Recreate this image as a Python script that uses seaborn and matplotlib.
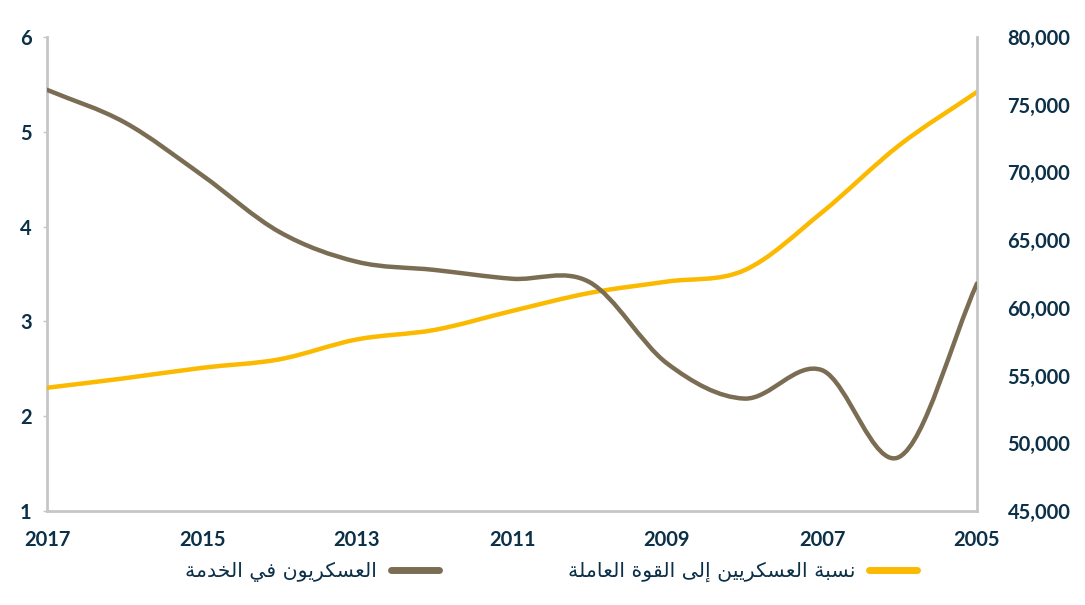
import numpy as np
import matplotlib
matplotlib.use("Agg")
import matplotlib.pyplot as plt
from matplotlib.path import Path
from matplotlib.patches import PathPatch
from matplotlib.lines import Line2D
from matplotlib.ticker import FuncFormatter
import seaborn as sns

# data
years = [2017, 2016, 2015, 2014, 2013, 2012, 2011, 2010, 2009, 2008, 2007, 2006, 2005]
personnel = [76100, 73700, 69800, 65600, 63400, 62800, 62150, 61900, 55900, 53300, 55400, 49000, 61800]
ratio = [2.30, 2.40, 2.51, 2.60, 2.81, 2.91, 3.11, 3.30, 3.42, 3.54, 4.15, 4.86, 5.42]

left_ticks = [1, 2, 3, 4, 5, 6]
right_ticks = [45000, 50000, 55000, 60000, 65000, 70000, 75000, 80000]
year_ticks = [2017, 2015, 2013, 2011, 2009, 2007, 2005]

label_personnel = "العسكريون في الخدمة"
label_ratio = "نسبة العسكريين إلى القوة العاملة"

BROWN = "#7b6d53"
YELLOW = "#fbb900"
NAVY = "#0b3048"
GREY = "#c6c6c6"

# simple arabic shaping (matplotlib has no text shaping)
FORMS = {
    "\u0627": (0xFE8D, 0xFE8E, None, None),
    "\u0625": (0xFE87, 0xFE88, None, None),
    "\u0628": (0xFE8F, 0xFE90, 0xFE91, 0xFE92),
    "\u0629": (0xFE93, 0xFE94, None, None),
    "\u062E": (0xFEA5, 0xFEA6, 0xFEA7, 0xFEA8),
    "\u062F": (0xFEA9, 0xFEAA, None, None),
    "\u0631": (0xFEAD, 0xFEAE, None, None),
    "\u0633": (0xFEB1, 0xFEB2, 0xFEB3, 0xFEB4),
    "\u0639": (0xFEC9, 0xFECA, 0xFECB, 0xFECC),
    "\u0641": (0xFED1, 0xFED2, 0xFED3, 0xFED4),
    "\u0642": (0xFED5, 0xFED6, 0xFED7, 0xFED8),
    "\u0643": (0xFED9, 0xFEDA, 0xFEDB, 0xFEDC),
    "\u0644": (0xFEDD, 0xFEDE, 0xFEDF, 0xFEE0),
    "\u0645": (0xFEE1, 0xFEE2, 0xFEE3, 0xFEE4),
    "\u0646": (0xFEE5, 0xFEE6, 0xFEE7, 0xFEE8),
    "\u0648": (0xFEED, 0xFEEE, None, None),
    "\u0649": (0xFEEF, 0xFEF0, None, None),
    "\u064A": (0xFEF1, 0xFEF2, 0xFEF3, 0xFEF4),
}

def shape(text):
    out = []
    for i, c in enumerate(text):
        if c not in FORMS:
            out.append(c)
            continue
        prev = text[i-1] if i > 0 else ""
        nxt = text[i+1] if i < len(text)-1 else ""
        jp = prev in FORMS and FORMS[prev][2] is not None
        jn = FORMS[c][2] is not None and nxt in FORMS
        iso, fin, ini, med = FORMS[c]
        if jp and jn:
            out.append(chr(med))
        elif jp:
            out.append(chr(fin))
        elif jn:
            out.append(chr(ini))
        else:
            out.append(chr(iso))
    return "".join(out)[::-1]

def smooth_path(x, y):
    # catmull-rom style bezier through the data points
    x = np.asarray(x, float)
    y = np.asarray(y, float)
    n = len(x)
    mx = np.gradient(x)
    my = np.gradient(y)
    verts = [(x[0], y[0])]
    codes = [Path.MOVETO]
    for i in range(n-1):
        verts += [(x[i]+mx[i]/3, y[i]+my[i]/3),
                  (x[i+1]-mx[i+1]/3, y[i+1]-my[i+1]/3),
                  (x[i+1], y[i+1])]
        codes += [Path.CURVE4]*3
    return Path(verts, codes)

sns.set_theme(style="white")
plt.rcParams['font.family'] = ['Lato', 'DejaVu Sans']

fig = plt.figure(figsize=(10.85, 6.05), dpi=100)
ax = fig.add_axes([47/1085, 1-511/605, (977-47)/1085, (511-37)/605])
ax2 = ax.twinx()

ax.set_xlim(2017, 2005)
ax.set_ylim(1, 6)
ax2.set_ylim(45000, 80000)

ax.add_patch(PathPatch(smooth_path(years, ratio), fill=False, edgecolor=YELLOW,
                       lw=3.2, capstyle="round", joinstyle="round", zorder=3))
ax2.add_patch(PathPatch(smooth_path(years, personnel), fill=False, edgecolor=BROWN,
                        lw=3.2, capstyle="round", joinstyle="round", zorder=3))

for a in (ax, ax2):
    for s in a.spines.values():
        s.set_visible(False)
ax.spines["left"].set_visible(True)
ax.spines["bottom"].set_visible(True)
ax2.spines["right"].set_visible(True)
for s in (ax.spines["left"], ax.spines["bottom"], ax2.spines["right"]):
    s.set_color(GREY)
    s.set_linewidth(2)

ax.set_xticks(year_ticks)
ax.set_xticklabels([str(y) for y in year_ticks])
ax.set_yticks(left_ticks)
ax2.set_yticks(right_ticks)
ax2.yaxis.set_major_formatter(FuncFormatter(lambda v, p: f"{int(v):,}"))

ax.tick_params(axis="x", length=0, pad=14, labelsize=14.5, labelcolor=NAVY)
ax.tick_params(axis="y", length=3, width=1, color=GREY, pad=8, labelsize=14.5, labelcolor=NAVY, left=True)
ax2.tick_params(axis="y", length=0, pad=22, labelsize=14.5, labelcolor=NAVY)
for lab in ax.get_xticklabels() + ax.get_yticklabels() + ax2.get_yticklabels():
    lab.set_fontweight("bold")

ax.grid(False)
ax2.grid(False)

handles = [Line2D([0], [0], color=BROWN, lw=5, solid_capstyle="round"),
           Line2D([0], [0], color=YELLOW, lw=5, solid_capstyle="round")]
labels = [shape(label_personnel), shape(label_ratio)]
leg = fig.legend(handles, labels, loc="center", bbox_to_anchor=(551/1085, 1-572/605),
                 ncol=2, frameon=False, markerfirst=False, handlelength=2.35,
                 columnspacing=6.3, handletextpad=0.7,
                 prop={"family": "DejaVu Sans", "size": 14.7})
for t in leg.get_texts():
    t.set_color(NAVY)

fig.savefig("out.png", dpi=100)
